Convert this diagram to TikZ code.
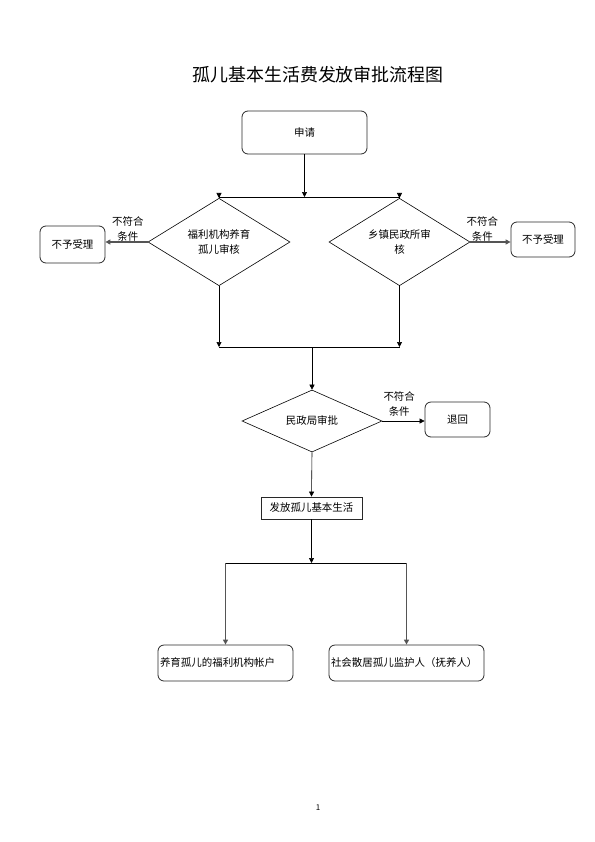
\documentclass[tikz,border=0pt]{standalone}
\usepackage{fontspec}
\setmainfont{Noto Sans CJK SC}
\usepackage{xcolor}
\usepackage{tikz}
\usetikzlibrary{shapes.geometric, arrows.meta, positioning}
\definecolor{edge}{RGB}{40, 40, 40}
\definecolor{flow}{RGB}{85, 85, 85}
\tikzset{
    stepbox/.style={rectangle, rounded corners=6bp, draw=edge, thick, text centered, inner sep=2bp, font=\fontsize{10.5}{13}\selectfont},
    plainbox/.style={rectangle, draw=edge, thick, text centered, inner sep=2bp, font=\fontsize{10.5}{13}\selectfont},
    check/.style={diamond, draw=black, semithick, inner sep=0pt, align=center, font=\fontsize{10.5}{15}\selectfont},
    line/.style={draw, -{Triangle[length=5bp, width=5bp]}, semithick, color=black},
    linkline/.style={draw, semithick, color=black},
    reject/.style={draw, -{Triangle[length=5bp, width=5bp]}, line width=1.6bp, color=flow},
    note/.style={align=center, anchor=south, inner sep=0pt, text=black, font=\fontsize{10.5}{15}\selectfont}
}
\begin{document}
\begin{tikzpicture}[x=1bp, y=-1bp]
        \useasboundingbox (0,0) rectangle (595,842);

        \node [font=\fontsize{18}{20}\selectfont] (title) at (318,75) {孤儿基本生活费发放审批流程图};

        \node [stepbox, minimum width=125bp, minimum height=43bp] (apply) at (304.5,132.5) {申请};

        \node [check, minimum width=142bp, minimum height=56bp] (welfare) at (219,242) {福利机构养育\\孤儿审核};
        \node [check, minimum width=141bp, minimum height=56bp] (town) at (399.5,242) {乡镇民政所审\\核};

        \node [stepbox, minimum width=65bp, minimum height=37bp] (refuseL) at (72.5,244.5) {不予受理};
        \node [stepbox, minimum width=64bp, minimum height=35bp] (refuseR) at (543,239.5) {不予受理};

        \node [check, minimum width=140bp, minimum height=56bp] (bureau) at (312,421) {民政局审批};
        \node [stepbox, minimum width=65bp, minimum height=35bp] (back) at (457.5,419.5) {退回};

        \node [plainbox, minimum width=101bp, minimum height=22bp] (grant) at (311.5,508) {发放孤儿基本生活};

        \node [stepbox, minimum width=135bp, minimum height=36bp, text width=131bp, align=left] (account) at (225.5,663) {养育孤儿的福利机构帐户};
        \node [stepbox, minimum width=155bp, minimum height=36bp, text width=151bp, align=left] (guardian) at (406.5,663) {社会散居孤儿监护人（抚养人）};

        \node [font=\fontsize{8}{9}\selectfont] (page) at (318,808) {1};

        % Junctions
        \coordinate (splitT) at (304.5,197);
        \coordinate (splitL) at (219,197);
        \coordinate (splitR) at (399.5,197);
        \coordinate (joinL) at (219,347);
        \coordinate (joinR) at (399.5,347);
        \coordinate (joinM) at (312,347);
        \coordinate (splitB) at (311.5,563);
        \coordinate (splitBL) at (225.5,563);
        \coordinate (splitBR) at (406.5,563);

        % Paths
        \draw [line] (apply) -- (splitT);
        \draw [linkline] (splitL) -- (splitR);
        \draw [line] (splitL) -- (welfare.north);
        \draw [line] (splitR) -- (town.north);

        \draw [reject] (welfare.west) -- node[note, pos=0.47] {不符合\\条件} (refuseL.east |- welfare.west);
        \draw [reject] (town.east) -- node[note, pos=0.3] {不符合\\条件} (refuseR.west |- town.east);

        \draw [line] (welfare.south) -- (joinL);
        \draw [line] (town.south) -- (joinR);
        \draw [linkline] (joinL) -- (joinR);
        \draw [line] (joinM) -- (bureau.north);

        \draw [line] (bureau.east) -- node[note, pos=0.4, yshift=4bp] {不符合\\条件} (back.west |- bureau.east);
        \draw [line] (bureau.south) -- (grant.north);

        \draw [line] (grant.south) -- (splitB);
        \draw [linkline] (splitBL) -- (splitBR);
        \draw [reject] (splitBL) -- (account.north);
        \draw [reject] (splitBR) -- (guardian.north);

\end{tikzpicture}
\end{document}
